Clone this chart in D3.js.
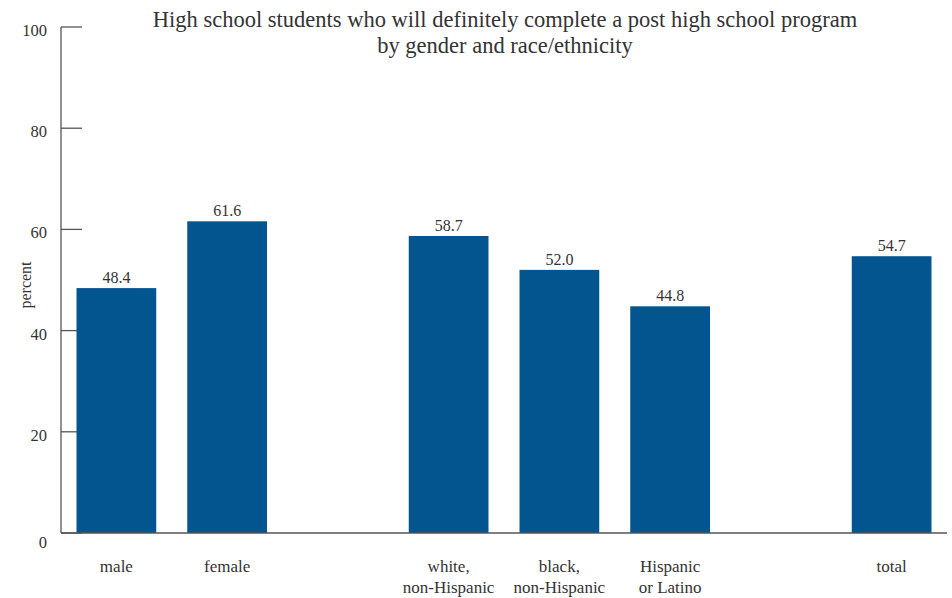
<!DOCTYPE html>
<html><head><meta charset="utf-8">
<script src="https://cdn.jsdelivr.net/npm/d3@7"></script>
<style>
body{margin:0;background:#fff;}
text{font-family:"Liberation Serif","DejaVu Serif",serif;fill:#333;}
</style></head>
<body><svg id="c" width="952" height="598"></svg>
<script>
const groups = [
  ["male","female"],
  ["white,\nnon-Hispanic","black,\nnon-Hispanic","Hispanic\nor Latino"],
  ["total"]
];
const values = [48.4, 61.6, 58.7, 52.0, 44.8, 54.7];
const yTicks = [0,20,40,60,80,100];
const titleLines = ["High school students who will definitely complete a post high school program","by gender and race/ethnicity"];
const yLabel = "percent";

const slots = [];
const cats = [];
groups.forEach((g,gi)=>{
  if(gi>0) slots.push("__gap"+gi);
  g.forEach(c=>{slots.push(c);cats.push(c);});
});
const data = cats.map((c,i)=>({cat:c,value:values[i]}));

const svg = d3.select("#c");
const x = d3.scaleBand().domain(slots).range([61,947]).paddingInner(0.28).paddingOuter(0.14);
const y = d3.scaleLinear().domain([0,100]).range([533,27]);

// y axis
const ya = svg.append("g").attr("transform","translate(61,0)");
ya.append("line").attr("x1",0).attr("x2",0).attr("y1",y(100)).attr("y2",y(0)).attr("stroke","#555").attr("stroke-width",1.3);
ya.selectAll("line.t").data(yTicks).join("line").attr("class","t")
  .attr("x1",0).attr("x2",21).attr("y1",d=>y(d)).attr("y2",d=>y(d)).attr("stroke","#555").attr("stroke-width",1.3);
ya.selectAll("text").data(yTicks).join("text")
  .attr("x",-14).attr("y",d=>y(d)+(d===0?15:9)).attr("text-anchor","end")
  .style("font-size","16.5px").text(d=>d);

// bars
svg.append("g").selectAll("rect").data(data).join("rect")
  .attr("x",d=>x(d.cat)).attr("width",x.bandwidth())
  .attr("y",d=>y(d.value)).attr("height",d=>y(0)-y(d.value))
  .attr("fill","#02558f");

// baseline
svg.append("line").attr("x1",61).attr("x2",947).attr("y1",y(0)).attr("y2",y(0)).attr("stroke","#555").attr("stroke-width",1.3);

// value labels
svg.append("g").selectAll("text").data(data).join("text")
  .attr("x",d=>x(d.cat)+x.bandwidth()/2).attr("y",d=>y(d.value)-5)
  .attr("text-anchor","middle").style("font-size","16px")
  .text(d=>d.value.toFixed(1));

// category labels
const cl = svg.append("g").selectAll("text").data(data).join("text")
  .attr("text-anchor","middle").style("font-size","17px")
  .attr("transform",d=>`translate(${x(d.cat)+x.bandwidth()/2},572)`);
cl.each(function(d){
  d.cat.split("\n").forEach((line,i)=>{
    d3.select(this).append("tspan").attr("x",0).attr("y",i*21).text(line);
  });
});

// y label
svg.append("text").attr("transform","translate(31,285) rotate(-90)")
  .attr("text-anchor","middle").style("font-size","16px").text(yLabel);

// title
svg.append("g").selectAll("text").data(titleLines).join("text")
  .attr("x",505).attr("y",(d,i)=>27+i*26).attr("text-anchor","middle")
  .style("font-size","22.5px").text(d=>d);
</script></body></html>
